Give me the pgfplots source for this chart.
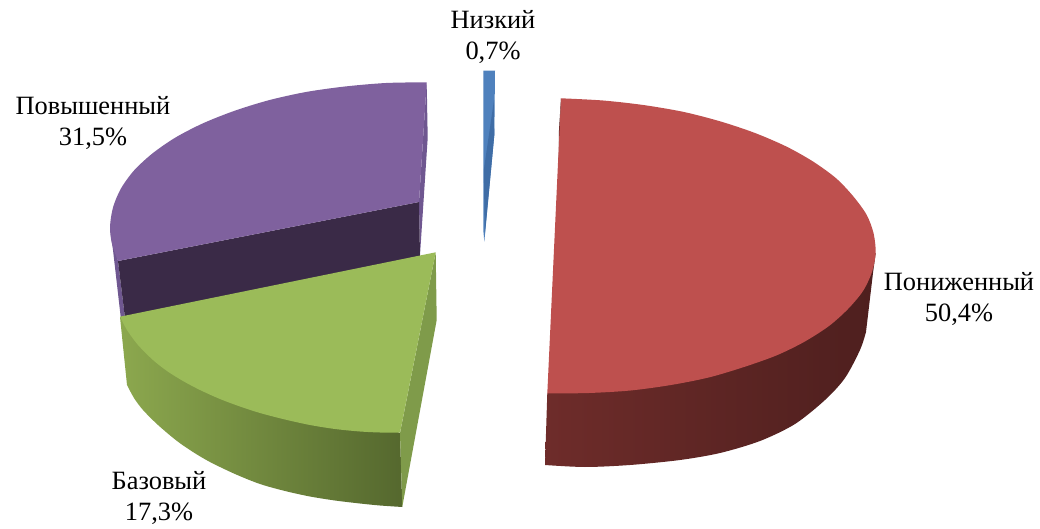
\documentclass[border=0pt]{standalone}
\usepackage{fontspec}
\setmainfont{Liberation Serif}
\usepackage{pgfplots}
\pgfplotsset{compat=1.18}
\definecolor{redtop}{HTML}{BE504E}
\definecolor{reddark}{HTML}{4E1F1E}
\definecolor{redlight}{HTML}{6E2C2A}
\definecolor{purtop}{HTML}{7F619E}
\definecolor{purside}{HTML}{6F5790}
\definecolor{purdark}{HTML}{3A2A47}
\definecolor{grntop}{HTML}{9BBB59}
\definecolor{grnside}{HTML}{7F9B4A}
\definecolor{grnl}{HTML}{8CA84E}
\definecolor{grnd}{HTML}{55682E}
\definecolor{blutop}{HTML}{4F81BD}
\definecolor{bluside}{HTML}{3F6DA6}
\begin{document}
\begin{tikzpicture}
\begin{axis}[
  scale only axis, width=780pt, height=396pt,
  xmin=0, xmax=1040, ymin=0, ymax=528, y dir=reverse,
  hide axis, no markers, clip=false,
  every axis plot/.append style={draw=none},
]
\path (rel axis cs:0,0) (rel axis cs:1,1);
% Purple
\addplot[fill=purside] coordinates {(426.7,82.3)(427.7,138)(420,255)(419,202)} --cycle;
\addplot[fill=purside] coordinates {(110,227)(113,250)(120.7,317)(125,318)(118,261)} --cycle;
\addplot[fill=purdark] coordinates {(118,261)(419,202)(420,256)(125,318)} --cycle;
\addplot[smooth,fill=purtop] coordinates {(426.7,82.3)(386,83)(345,86.5)(306,92)(268.5,100.3)(234,111)(203,123.3)(175.5,137.5)(152.5,153.4)(134,170.5)(120.8,188.8)(113,207.5)(110,227)(112,244)(118,261)} -- (axis cs:419,202) -- cycle;
% Green
\addplot[smooth,left color=grnl,right color=grnd] coordinates {(127,385)(134,398)(143,410)(158,425)(177,441)(193,452)(210,462)(235,474)(260,484)(285,491)(310,496.5)(335,500.5)(360,503.5)(380,505.5)(402.3,507)} -- (axis cs:400,433) -- (axis cs:120,317) -- cycle;
\addplot[fill=grnside] coordinates {(435.7,252.3)(436.7,320)(402.3,506.7)(400,433)} --cycle;
\addplot[smooth,fill=grntop] coordinates {(120,316.7)(127,330)(138,345)(153,360)(167,371)(183,381)(200,390)(220,399)(240,406.5)(260,413)(285,419.5)(310,425)(335,429)(360,431.5)(380,432.5)(400,432.7)} -- (axis cs:435.7,252.3) -- cycle;
% Red
\addplot[fill=reddark] coordinates {(561,98.3)(558,230)(559,130)} --cycle;
\addplot[smooth,left color=redlight,middle color=reddark,right color=reddark] coordinates {(866,332)(860,350)(845,378)(825,400)(795,424)(760,441)(720,453)(680,460)(630,465)(585,467)(545,465)} -- (axis cs:547.3,393) -- (axis cs:875.7,253) -- (axis cs:873,273) -- cycle;
\addplot[smooth,fill=redtop] coordinates {(561,98.3)(603,100.5)(644,105.1)(684,112)(721,121.6)(755,133)(786.5,146.6)(813,161.5)(836,178.2)(853,196)(866.5,214.6)(873.5,233)(875.7,253)(872,272)(863,291)(848,309)(829,326)(804,342)(776.5,355.4)(744,367)(709,377.4)(671,385)(630.5,390.5)(589,393)(547.3,393.5)} -- cycle;
% Blue
\addplot[fill=blutop] coordinates {(483.3,70.7)(495,70.7)(494.3,135)(484.3,241.7)(483.3,230)} --cycle;
\addplot[fill=bluside] coordinates {(494,100)(494.3,135)(484.8,235)(483.8,170)} --cycle;
% Labels
\node[align=center,font=\fontsize{19.8}{23}\selectfont] at (axis cs:493,37) {Низкий\\0,7\%};
\node[align=center,font=\fontsize{19.8}{23}\selectfont] at (axis cs:93,123) {Повышенный\\31,5\%};
\node[align=center,font=\fontsize{19.8}{23}\selectfont] at (axis cs:959,299) {Пониженный\\50,4\%};
\node[align=center,font=\fontsize{19.8}{23}\selectfont] at (axis cs:159,498) {Базовый\\17,3\%};
\end{axis}
\end{tikzpicture}
\end{document}
